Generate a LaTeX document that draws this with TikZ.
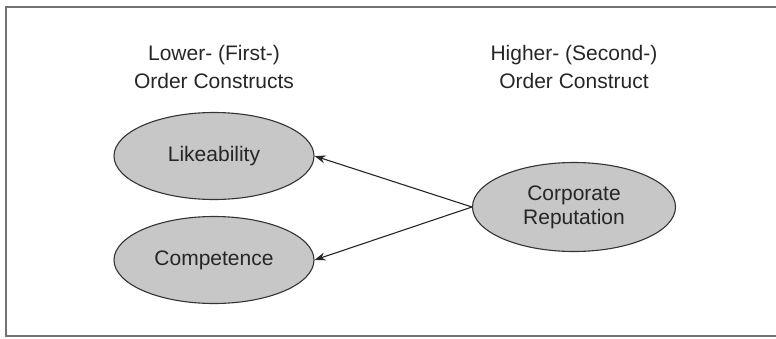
\documentclass[tikz,border=0pt]{standalone}
\usepackage{fontspec}
\setmainfont{Liberation Sans}
\usetikzlibrary{shapes.geometric,arrows.meta}
\begin{document}
\begin{tikzpicture}[x=1pt,y=-1pt,
  construct/.style={ellipse,draw=black!80,line width=1.1pt,fill=black!22,
    minimum width=200pt,minimum height=87pt,inner sep=0pt,
    font=\fontsize{21}{26}\selectfont,text=black!85,align=center},
  heading/.style={font=\fontsize{21}{28}\selectfont,text=black!85,align=center},
  link/.style={draw=black!85,line width=1.1pt,-{Stealth[length=11pt,width=8pt]}}]
  \useasboundingbox (0,0) rectangle (776,338);
  % outer frame (its right side lies beyond the page)
  \draw[black!55,line width=2pt] (790,7) -- (6,7) -- (6,336) -- (790,336);
  % column headings
  \node[heading] (lowhead) at (214,67) {Lower- (First-)\\Order Constructs};
  \node[heading] (highhead) at (574,67) {Higher- (Second-)\\Order Construct};
  % constructs
  \node[construct] (like) at (214,156) {Likeability};
  \node[construct] (comp) at (214,260) {Competence};
  \node[construct,minimum width=203pt,minimum height=89pt] (corp) at (574,207) {Corporate\\[-2pt]Reputation};
  % reflective paths from the higher-order construct
  \draw[link] (corp.west) -- (like.east);
  \draw[link] (corp.west) -- (comp.east);
\end{tikzpicture}
\end{document}
